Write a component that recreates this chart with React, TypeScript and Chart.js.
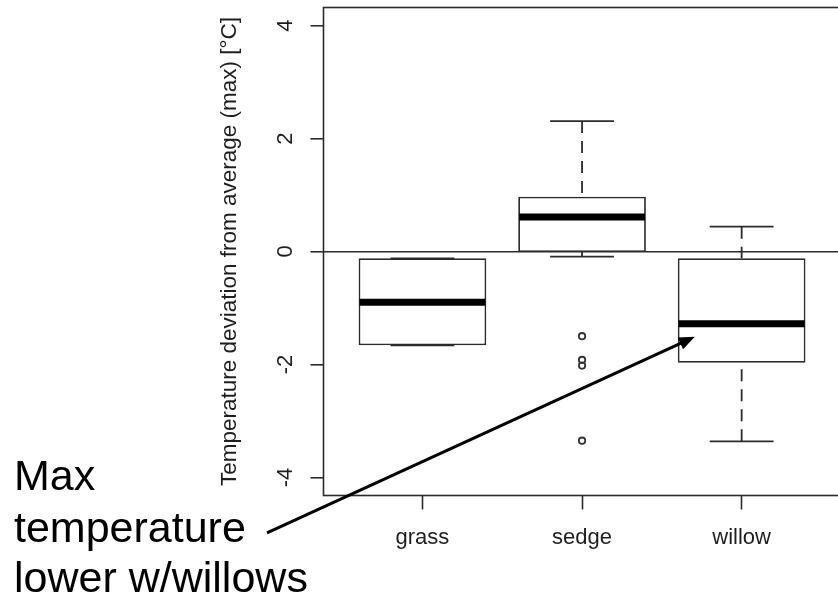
import React, { useEffect, useRef } from 'react';
import { Chart, registerables } from 'chart.js';

Chart.register(...registerables);

// ---- data ----
const categories = ['grass', 'sedge', 'willow'];
const q1 = [-1.66, -0.01, -1.97];
const medians = [-0.9, 0.61, -1.28];
const q3 = [-0.12, 0.97, -0.12];
const whiskerLow = [-1.66, -0.09, -3.36];
const whiskerHigh = [-0.12, 2.31, 0.44];
const outlierCategory = [1, 1, 1, 1];
const outlierValues = [-1.5, -1.92, -2.02, -3.35];
const yTickValues = [-4, -2, 0, 2, 4];
const yAxisTitle = 'Temperature deviation from average (max) [°C]';
const annotationLines = ['Max', 'temperature', 'lower w/willows'];
// arrow anchors in data coordinates (category index, value)
const arrowFrom = { x: -0.974, y: -4.98 };
const arrowTo = { x: 1.707, y: -1.51 };

const FONT = "'Liberation Sans', Arial, Helvetica, sans-serif";
const LINE = '#2b2b2b';
const TEXT = '#1e1e1e';
const BOX_WIDTH = 0.8;
const STAPLE_WIDTH = 0.4;

const extrasPlugin = {
  id: 'boxplotExtras',
  afterDatasetsDraw(chart: any) {
    const { ctx, scales } = chart;
    const x = scales.x;
    const y = scales.y;
    ctx.save();
    categories.forEach((_, i) => {
      const cx = x.getPixelForValue(i);
      const bl = x.getPixelForValue(i - BOX_WIDTH / 2);
      const br = x.getPixelForValue(i + BOX_WIDTH / 2);
      const sl = x.getPixelForValue(i - STAPLE_WIDTH / 2);
      const sr = x.getPixelForValue(i + STAPLE_WIDTH / 2);
      // whiskers (dashed, from whisker end to hinge)
      ctx.strokeStyle = LINE;
      ctx.lineWidth = 1.8;
      ctx.setLineDash([12, 8]);
      ctx.lineDashOffset = 0;
      if (whiskerHigh[i] > q3[i]) {
        ctx.beginPath();
        ctx.moveTo(cx, y.getPixelForValue(whiskerHigh[i]));
        ctx.lineTo(cx, y.getPixelForValue(q3[i]));
        ctx.stroke();
      }
      if (whiskerLow[i] < q1[i]) {
        ctx.beginPath();
        ctx.moveTo(cx, y.getPixelForValue(whiskerLow[i]));
        ctx.lineTo(cx, y.getPixelForValue(q1[i]));
        ctx.stroke();
      }
      ctx.setLineDash([]);
      // staples
      [whiskerHigh[i], whiskerLow[i]].forEach((v) => {
        const py = y.getPixelForValue(v);
        ctx.beginPath();
        ctx.moveTo(sl, py);
        ctx.lineTo(sr, py);
        ctx.stroke();
      });
      // median
      ctx.strokeStyle = '#000';
      ctx.lineWidth = 7;
      ctx.lineCap = 'butt';
      const my = y.getPixelForValue(medians[i]);
      ctx.beginPath();
      ctx.moveTo(bl + 1, my);
      ctx.lineTo(br - 1, my);
      ctx.stroke();
    });
    ctx.restore();
  },
  afterDraw(chart: any) {
    const { ctx, chartArea, scales } = chart;
    const x = scales.x;
    const y = scales.y;
    ctx.save();
    // frame
    ctx.strokeStyle = LINE;
    ctx.lineWidth = 1.6;
    ctx.strokeRect(chartArea.left, chartArea.top, chartArea.right - chartArea.left, chartArea.bottom - chartArea.top);

    // y tick labels (rotated, parallel to axis)
    ctx.fillStyle = TEXT;
    ctx.font = `22px ${FONT}`;
    ctx.textAlign = 'center';
    ctx.textBaseline = 'alphabetic';
    y.ticks.forEach((t: any) => {
      const py = y.getPixelForValue(t.value);
      ctx.save();
      ctx.translate(chartArea.left - 31.5, py);
      ctx.rotate(-Math.PI / 2);
      ctx.fillText(String(t.value), 0, 0);
      ctx.restore();
    });
    // y axis title
    ctx.save();
    ctx.font = `22.5px ${FONT}`;
    ctx.translate(chartArea.left - 87.5, (chartArea.top + chartArea.bottom) / 2);
    ctx.rotate(-Math.PI / 2);
    ctx.fillText(yAxisTitle, 0, 0);
    ctx.restore();

    // annotation text
    ctx.font = `43px ${FONT}`;
    ctx.textAlign = 'left';
    ctx.fillStyle = '#000';
    const baselines = [490, 541.7, 591.7];
    annotationLines.forEach((line, i) => ctx.fillText(line, 14, baselines[i]));

    // arrow
    const x0 = x.getPixelForValue(arrowFrom.x);
    const y0 = y.getPixelForValue(arrowFrom.y);
    const x1 = x.getPixelForValue(arrowTo.x);
    const y1 = y.getPixelForValue(arrowTo.y);
    const ang = Math.atan2(y1 - y0, x1 - x0);
    const headLen = 16;
    const headHalf = 6.5;
    const bx = x1 - headLen * Math.cos(ang);
    const by = y1 - headLen * Math.sin(ang);
    ctx.strokeStyle = '#000';
    ctx.lineWidth = 3;
    ctx.beginPath();
    ctx.moveTo(x0, y0);
    ctx.lineTo(bx + 2 * Math.cos(ang), by + 2 * Math.sin(ang));
    ctx.stroke();
    ctx.fillStyle = '#000';
    ctx.beginPath();
    ctx.moveTo(x1, y1);
    ctx.lineTo(bx - headHalf * Math.sin(ang), by + headHalf * Math.cos(ang));
    ctx.lineTo(bx + headHalf * Math.sin(ang), by - headHalf * Math.cos(ang));
    ctx.closePath();
    ctx.fill();
    ctx.restore();
  },
};

export default function App() {
  const canvasRef = useRef<HTMLCanvasElement | null>(null);

  useEffect(() => {
    document.body.style.margin = '0';
    const canvas = canvasRef.current;
    if (!canvas) return;
    const chart = new Chart(canvas, {
      type: 'bar',
      data: {
        datasets: [
          {
            type: 'bar',
            data: categories.map((_, i) => ({ x: i, y: [q1[i], q3[i]] })) as any,
            backgroundColor: '#ffffff',
            borderColor: LINE,
            borderWidth: 1.8,
            borderSkipped: false,
            categoryPercentage: BOX_WIDTH,
            barPercentage: 1,
          } as any,
          {
            type: 'scatter',
            data: outlierValues.map((v, i) => ({ x: outlierCategory[i], y: v })),
            pointStyle: 'circle',
            pointRadius: 3.2,
            pointBorderWidth: 1.8,
            pointBorderColor: '#333',
            pointBackgroundColor: 'rgba(0,0,0,0)',
            showLine: false,
          } as any,
        ],
      },
      options: {
        responsive: false,
        animation: false,
        events: [],
        layout: { padding: { top: 7.5, left: 0, right: 9.4, bottom: 0 } },
        plugins: { legend: { display: false }, tooltip: { enabled: false } },
        scales: {
          x: {
            type: 'linear',
            min: -0.62,
            max: 2.62,
            offset: false,
            afterBuildTicks: (scale: any) => {
              scale.ticks = categories.map((_, i) => ({ value: i }));
            },
            afterFit: (scale: any) => {
              scale.height = 109.5;
            },
            ticks: {
              autoSkip: false,
              maxRotation: 0,
              minRotation: 0,
              padding: 15,
              color: TEXT,
              font: { family: FONT, size: 22 },
              callback: (v: any) => categories[v] ?? '',
            },
            grid: {
              offset: false,
              drawOnChartArea: false,
              drawTicks: true,
              tickLength: 14,
              tickColor: LINE,
              tickWidth: 1.6,
            },
            border: { display: false },
          },
          y: {
            type: 'linear',
            min: -4.32,
            max: 4.32,
            afterBuildTicks: (scale: any) => {
              scale.ticks = yTickValues.map((v) => ({ value: v }));
            },
            afterFit: (scale: any) => {
              scale.width = 323.5;
            },
            ticks: { display: false },
            grid: {
              drawOnChartArea: true,
              drawTicks: true,
              tickLength: 13,
              color: (c: any) => (c.tick && c.tick.value === 0 ? LINE : 'rgba(0,0,0,0)'),
              lineWidth: 1.6,
              tickColor: LINE,
              tickWidth: 1.6,
            },
            border: { display: false },
          },
        },
      },
      plugins: [extrasPlugin],
    });
    return () => chart.destroy();
  }, []);

  return (
    <div style={{ position: 'relative', width: 838, height: 605, overflow: 'hidden', background: '#fff' }}>
      <canvas ref={canvasRef} width={850} height={605} style={{ display: 'block', width: 850, height: 605 }} />
    </div>
  );
}
